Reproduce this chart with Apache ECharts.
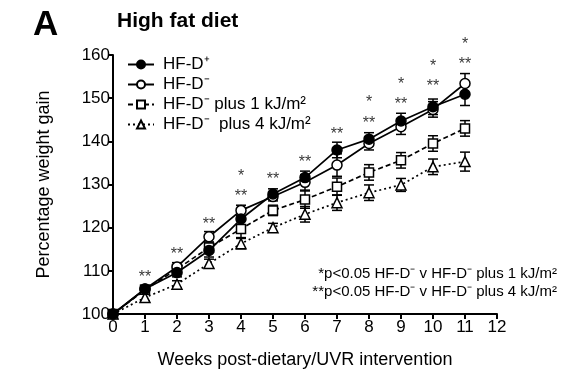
<!DOCTYPE html>
<html><head><meta charset="utf-8">
<script src="https://cdn.jsdelivr.net/npm/echarts@6/dist/echarts.min.js"></script>
<style>html,body{margin:0;padding:0;background:#fff}#c{width:579px;height:387px}</style>
</head><body><div id="c"></div>
<script>
const weeks = [0,1,2,3,4,5,6,7,8,9,10,11];
const names = ['HF-D\u207A','HF-D\u207B','HF-D\u207B plus 1 kJ/m\u00B2','HF-D\u207B  plus 4 kJ/m\u00B2'];
const hfdPlus  = [100,105.8,109.6,114.7,122.0,127.8,131.6,138.0,140.5,144.7,148.0,150.9];
const hfdMinus = [100,105.8,110.9,117.9,124.0,127.2,130.5,134.5,139.5,143.4,147.4,153.4];
const plus1kJ  = [100,105.6,110.4,115.4,119.7,124.0,126.5,129.5,132.8,135.6,139.5,143.0];
const plus4kJ  = [100,103.8,106.9,111.7,116.3,120.0,123.1,125.8,128.1,129.9,134.1,135.3];
const errPlus  = [0,0.8,1.0,1.5,1.6,1.2,1.5,1.8,1.5,1.8,1.8,2.6];
const errMinus = [0,0.8,1.0,1.2,1.2,1.0,1.8,2.6,1.5,1.8,1.8,2.3];
const err1kJ   = [0,0.8,1.0,1.0,2.0,1.2,2.0,2.0,1.8,1.8,1.8,1.8];
const err4kJ   = [0,0.8,0.8,1.0,1.2,1.0,1.8,1.8,1.8,1.5,1.8,2.2];
const dblStarY = [null,109.3,114.7,121.6,128.1,132.0,136.1,142.4,145.1,149.4,153.6,158.8];
const sglStarY = [null,null,null,null,132.8,null,null,null,149.8,154.0,158.2,163.4];
const yTicks = [100,110,120,130,140,150,160];

const chart = echarts.init(document.getElementById('c'));
const F = 'Liberation Sans, Arial, sans-serif';
function errSeries(vals, errs){
  return {
    type:'custom', silent:true, z:3, clip:false,
    data: weeks.map((w,i)=>[w, vals[i]-errs[i], vals[i]+errs[i]]).filter(d=>d[2]>d[1]),
    renderItem:function(params, api){
      const lo = api.coord([api.value(0), api.value(1)]);
      const hi = api.coord([api.value(0), api.value(2)]);
      const hw = 5;
      const st = {stroke:'#000', lineWidth:1.5};
      return {type:'group', children:[
        {type:'line', shape:{x1:lo[0],y1:lo[1],x2:hi[0],y2:hi[1]}, style:st},
        {type:'line', shape:{x1:lo[0]-hw,y1:lo[1],x2:lo[0]+hw,y2:lo[1]}, style:st},
        {type:'line', shape:{x1:hi[0]-hw,y1:hi[1],x2:hi[0]+hw,y2:hi[1]}, style:st}
      ]};
    }
  };
}
function starSeries(ys, txt){
  return {
    type:'scatter', silent:true, clip:false, symbolSize:0, z:5,
    data: weeks.map((w,i)=> ys[i]==null ? null : [w, ys[i]]).filter(d=>d),
    label:{show:true, position:'inside', formatter:txt, color:'#000', fontSize:16, fontFamily:F, offset:[0,4]}
  };
}
const lineBase = (name, vals, sym, fill, type, z) => ({
  name, type:'line', data: weeks.map((w,i)=>[w, vals[i]]), symbol:sym, symbolSize: sym==='triangle'?10:(sym==='rect'?9:10),
  clip:false, z:z,
  lineStyle:{color:'#000', width:1.7, type:type},
  itemStyle:{color:fill, borderColor:'#000', borderWidth:1.5}
});

chart.setOption({
  animation:false,
  backgroundColor:'#fff',
  grid:{left:113, right:82, top:55, bottom:73},
  title:[
    {text:'A', left:28, top:3, textStyle:{fontFamily:F, fontSize:35, fontWeight:'bold', color:'#000'}},
    {text:'High fat diet', left:112, top:6, textStyle:{fontFamily:F, fontSize:21, fontWeight:'bold', color:'#000'}}
  ],
  legend:{
    orient:'vertical', left:122, top:51, itemGap:3, itemWidth:26, itemHeight:10,
    data:names,
    textStyle:{fontFamily:F, fontSize:17, color:'#000', padding:[0,0,0,4]}
  },
  xAxis:{
    type:'value', min:0, max:12, interval:1,
    name:'Weeks post-dietary/UVR intervention', nameLocation:'middle', nameGap:37,
    nameTextStyle:{fontFamily:F, fontSize:18, color:'#000'},
    axisLine:{lineStyle:{color:'#000', width:2}},
    axisTick:{show:true, length:5, lineStyle:{color:'#000', width:2}},
    axisLabel:{fontFamily:F, fontSize:17, color:'#000', margin:5},
    splitLine:{show:false}
  },
  yAxis:{
    type:'value', min:yTicks[0], max:yTicks[yTicks.length-1], interval:10,
    name:'Percentage weight gain', nameLocation:'middle', nameGap:60,
    nameTextStyle:{fontFamily:F, fontSize:18, color:'#000'},
    axisLine:{show:true, lineStyle:{color:'#000', width:2}},
    axisTick:{show:true, length:5, lineStyle:{color:'#000', width:2}},
    axisLabel:{fontFamily:F, fontSize:17, color:'#000', margin:3},
    splitLine:{show:false}
  },
  series:[
    errSeries(hfdPlus, errPlus),
    errSeries(hfdMinus, errMinus),
    errSeries(plus1kJ, err1kJ),
    errSeries(plus4kJ, err4kJ),
    lineBase(names[0], hfdPlus, 'circle', '#000', 'solid', 6),
    lineBase(names[1], hfdMinus, 'circle', '#fff', 'solid', 5),
    lineBase(names[2], plus1kJ, 'rect', '#fff', [5,3], 4),
    lineBase(names[3], plus4kJ, 'triangle', '#fff', [2,3], 4),
    starSeries(dblStarY, '**'),
    starSeries(sglStarY, '*')
  ],
  graphic:[
    {type:'text', right:22, top:266, style:{text:'*p<0.05 HF-D\u207B v HF-D\u207B plus 1 kJ/m\u00B2', fontFamily:F, fontSize:15, fill:'#000', textAlign:'right'}},
    {type:'text', right:22, top:284, style:{text:'**p<0.05 HF-D\u207B v HF-D\u207B plus 4 kJ/m\u00B2', fontFamily:F, fontSize:15, fill:'#000', textAlign:'right'}}
  ]
});
</script></body></html>
